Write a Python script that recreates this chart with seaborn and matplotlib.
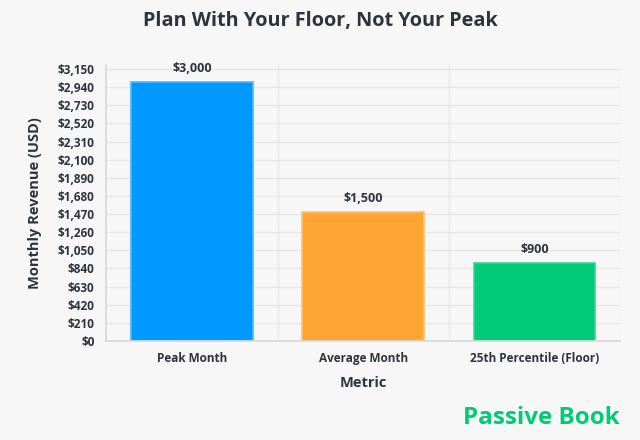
import matplotlib
matplotlib.use("Agg")
import matplotlib.pyplot as plt
import seaborn as sns
import pandas as pd
from matplotlib.ticker import FixedLocator

# chart data
metrics = ["Peak Month", "Average Month", "25th Percentile (Floor)"]
revenue = [3000, 1500, 900]
bar_colors = ["#0099ff", "#ffa533", "#00cc77"]
edge_colors = ["#4db8ff", "#ffc070", "#33d995"]
y_ticks = list(range(0, 3151, 210))

df = pd.DataFrame({"metric": metrics, "revenue": revenue})

sns.set_theme(style="whitegrid")
plt.rcParams["font.family"] = ["Open Sans", "DejaVu Sans"]

text_col = "#2a3540"
bg = "#f7f7f7"

fig = plt.figure(figsize=(6.4, 4.4), dpi=100, facecolor=bg)
ax = fig.add_axes([0.166, 0.225, 0.803, 0.627])
ax.set_facecolor(bg)

sns.barplot(data=df, x="metric", y="revenue", hue="metric", palette=bar_colors,
            width=0.71, legend=False, ax=ax, saturation=1)
for patch, ec in zip(ax.patches, edge_colors):
    patch.set_edgecolor(ec)
    patch.set_linewidth(1.2)

for i, v in enumerate(revenue):
    ax.text(i, v + 80, f"${v:,}", ha="center", va="bottom", fontsize=9,
            fontweight="bold", color=text_col)

ax.set_ylim(0, 3196)
ax.set_xlim(-0.5, 2.5)
ax.set_yticks(y_ticks)
ax.set_yticklabels([f"${t:,}" for t in y_ticks])
ax.xaxis.set_minor_locator(FixedLocator([0.5, 1.5, 2.5]))
ax.grid(axis="x", which="major", visible=False)
ax.grid(axis="x", which="minor", color="#e6e6e6", linewidth=0.9)
ax.grid(axis="y", color="#e6e6e6", linewidth=0.9)
ax.tick_params(axis="y", which="both", length=0, pad=8.5, colors=text_col)
ax.tick_params(axis="x", which="both", length=0, pad=8, colors=text_col)
for lab in ax.get_xticklabels() + ax.get_yticklabels():
    lab.set_fontweight("bold")
    lab.set_fontsize(8.5)
    lab.set_color(text_col)

for side in ["top", "right"]:
    ax.spines[side].set_visible(False)
ax.spines["left"].set_color("#d8d8d8")
ax.spines["bottom"].set_color("#d8d8d8")

ax.set_xlabel("Metric", fontsize=10.5, fontweight="bold", color=text_col, labelpad=8)
ax.set_ylabel("Monthly Revenue (USD)", fontsize=10.5, fontweight="bold", color=text_col, labelpad=11)

fig.text(0.5, 0.953, "Plan With Your Floor, Not Your Peak", ha="center", va="center",
         fontsize=14.3, fontweight="bold", color=text_col)
fig.text(0.969, 0.05, "Passive Book", ha="right", va="center",
         fontsize=17.5, fontweight="bold", color="#00cc77")

fig.savefig("out.png", dpi=100, facecolor=bg)
